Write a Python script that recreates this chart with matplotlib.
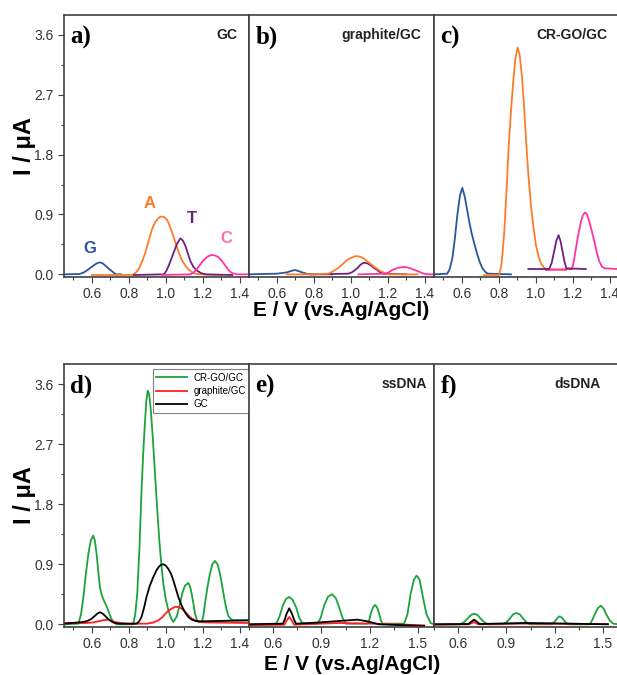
"""Square-wave voltammograms of G, A, T, C on GC, graphite/GC and CR-GO/GC electrodes."""

import matplotlib

matplotlib.use("Agg")
import matplotlib.pyplot as plt
from matplotlib.ticker import MultipleLocator

plt.rcParams["font.family"] = ["Liberation Sans", "DejaVu Sans"]

# ---- panel a: bare GC (E in V, I in uA) ----
a_g_e = [0.45, 0.535, 0.558, 0.58, 0.598, 0.616, 0.63, 0.643, 0.656, 0.67, 0.688, 0.706, 0.72, 0.733, 0.76]
a_g_i = [0.0, 0.005, 0.03, 0.07, 0.11, 0.145, 0.17, 0.18, 0.17, 0.14, 0.095, 0.055, 0.02, 0.0, 0.0]
a_a_e = [0.60, 0.818, 0.836, 0.854, 0.872, 0.89, 0.908, 0.926, 0.942, 0.958, 0.97, 0.98, 0.993,
         1.007, 1.02, 1.034, 1.052, 1.07, 1.088, 1.106, 1.124, 1.142, 1.16, 1.178, 1.30]
a_a_i = [-0.01, -0.01, 0.02, 0.08, 0.19, 0.33, 0.51, 0.68, 0.78, 0.84, 0.865, 0.87, 0.86,
         0.82, 0.74, 0.63, 0.48, 0.33, 0.21, 0.13, 0.07, 0.03, 0.01, 0.0, -0.01]
a_t_e = [0.827, 0.99, 1.003, 1.016, 1.03, 1.043, 1.061, 1.079, 1.092, 1.106, 1.12, 1.133, 1.15,
         1.169, 1.19, 1.214, 1.36]
a_t_i = [-0.01, 0.0, 0.05, 0.13, 0.23, 0.33, 0.46, 0.54, 0.51, 0.43, 0.31, 0.20, 0.11,
         0.055, 0.02, 0.0, -0.01]
a_c_e = [0.98, 1.133, 1.151, 1.169, 1.187, 1.205, 1.225, 1.245, 1.266, 1.286, 1.304, 1.322, 1.34,
         1.358, 1.385, 1.45]
a_c_i = [-0.01, 0.0, 0.03, 0.08, 0.15, 0.215, 0.265, 0.29, 0.285, 0.255, 0.2, 0.13, 0.06,
         0.02, 0.0, 0.0]

# ---- panel b: graphite/GC ----
b_g_e = [0.45, 0.60, 0.63, 0.655, 0.677, 0.697, 0.717, 0.737, 0.76, 0.783, 0.90]
b_g_i = [0.0, 0.01, 0.02, 0.03, 0.05, 0.065, 0.05, 0.03, 0.01, 0.0, 0.0]
b_a_e = [0.653, 0.78, 0.879, 0.9, 0.924, 0.947, 0.97, 0.988, 1.006, 1.02, 1.033, 1.05, 1.07,
         1.092, 1.115, 1.138, 1.16, 1.182, 1.205, 1.36]
b_a_i = [0.0, 0.0, 0.01, 0.04, 0.08, 0.13, 0.19, 0.23, 0.25, 0.27, 0.275, 0.265, 0.24,
         0.19, 0.14, 0.09, 0.05, 0.02, 0.0, 0.0]
b_t_e = [0.78, 0.988, 1.006, 1.024, 1.038, 1.051, 1.063, 1.075, 1.09, 1.106, 1.124, 1.142, 1.16,
         1.178, 1.30]
b_t_i = [0.0, 0.01, 0.03, 0.065, 0.1, 0.14, 0.165, 0.175, 0.165, 0.14, 0.1, 0.065, 0.03,
         0.01, 0.0]
b_c_e = [1.042, 1.187, 1.205, 1.224, 1.242, 1.26, 1.287, 1.305, 1.323, 1.345, 1.368, 1.39, 1.413, 1.45]
b_c_i = [0.0, 0.01, 0.03, 0.065, 0.085, 0.10, 0.11, 0.105, 0.09, 0.065, 0.04, 0.015, 0.0, 0.0]

# ---- panel c: CR-GO/GC ----
c_g_e = [0.45, 0.522, 0.535, 0.549, 0.562, 0.576, 0.59, 0.603, 0.617, 0.631, 0.642, 0.654, 0.67,
         0.685, 0.698, 0.712, 0.726, 0.74, 0.866]
c_g_i = [0.0, 0.01, 0.08, 0.24, 0.52, 0.89, 1.18, 1.30, 1.16, 0.94, 0.77, 0.61, 0.44,
         0.29, 0.18, 0.09, 0.04, 0.01, 0.0]
c_a_e = [0.721, 0.802, 0.815, 0.83, 0.842, 0.853, 0.866, 0.878, 0.89, 0.902, 0.913, 0.925, 0.936,
         0.947, 0.96, 0.974, 0.988, 1.001, 1.015, 1.028, 1.042, 1.055, 1.164]
c_a_i = [-0.01, -0.01, 0.15, 0.64, 1.25, 1.89, 2.45, 2.89, 3.25, 3.41, 3.30, 2.99, 2.55,
         2.04, 1.5, 1.04, 0.7, 0.44, 0.27, 0.165, 0.11, 0.08, 0.065]
c_t_e = [0.96, 1.072, 1.086, 1.099, 1.111, 1.123, 1.134, 1.145, 1.156, 1.166, 1.27]
c_t_i = [0.08, 0.08, 0.17, 0.34, 0.5, 0.59, 0.5, 0.34, 0.18, 0.09, 0.08]
c_c_e = [1.055, 1.196, 1.206, 1.217, 1.23, 1.244, 1.256, 1.268, 1.279, 1.29, 1.303, 1.317,
         1.33, 1.344, 1.357, 1.371, 1.45]
c_c_i = [0.065, 0.08, 0.2, 0.39, 0.6, 0.79, 0.9, 0.93, 0.89, 0.79, 0.65, 0.49, 0.33,
         0.19, 0.12, 0.09, 0.08]

# ---- panel d: mixture of bases on the three electrodes ----
d_crgo_e = [0.45, 0.528, 0.542, 0.555, 0.568, 0.582, 0.595, 0.608, 0.617, 0.626, 0.635, 0.644,
            0.653, 0.662, 0.675, 0.689, 0.702, 0.716, 0.734,
            0.824, 0.835, 0.846, 0.858, 0.869, 0.878, 0.887, 0.895, 0.902, 0.91, 0.918, 0.93,
            0.942, 0.954, 0.965, 0.976, 0.987, 1.0, 1.014, 1.028, 1.041,
            1.06, 1.077, 1.09, 1.104, 1.122, 1.132, 1.14, 1.15, 1.158, 1.168, 1.176, 1.194,
            1.203, 1.212, 1.225, 1.239, 1.252, 1.266, 1.28, 1.293, 1.305, 1.315, 1.327, 1.338,
            1.352, 1.365, 1.45]
d_crgo_i = [0.0, 0.01, 0.15, 0.41, 0.75, 1.06, 1.26, 1.33, 1.25, 1.06, 0.8, 0.56,
            0.45, 0.38, 0.3, 0.21, 0.11, 0.035, 0.0,
            0.0, 0.15, 0.46, 1.15, 2.0, 2.55, 3.0, 3.35, 3.5, 3.45, 3.25, 2.8,
            2.25, 1.72, 1.26, 0.9, 0.61, 0.38, 0.21, 0.1, 0.035,
            0.12, 0.31, 0.47, 0.58, 0.62, 0.56, 0.46, 0.3, 0.16, 0.07, 0.035, 0.035,
            0.12, 0.31, 0.55, 0.76, 0.9, 0.95, 0.9, 0.76, 0.58, 0.41, 0.24, 0.13,
            0.08, 0.06, 0.06]
d_graph_e = [0.45, 0.573, 0.61, 0.644, 0.668, 0.689, 0.707, 0.725, 0.755, 0.788, 0.896, 0.93,
             0.96, 0.983, 1.005, 1.028, 1.05, 1.068, 1.086, 1.104, 1.122, 1.14, 1.158, 1.18,
             1.203, 1.45]
d_graph_i = [0.02, 0.02, 0.03, 0.05, 0.065, 0.07, 0.055, 0.035, 0.02, 0.01, 0.01, 0.025,
             0.06, 0.11, 0.18, 0.23, 0.26, 0.26, 0.235, 0.19, 0.135, 0.09, 0.06, 0.04,
             0.03, 0.02]
d_gc_e = [0.45, 0.555, 0.58, 0.60, 0.614, 0.626, 0.635, 0.644, 0.657, 0.671, 0.685, 0.698,
          0.712, 0.725, 0.752, 0.842, 0.855, 0.869, 0.882, 0.896, 0.914, 0.933, 0.95, 0.965,
          0.977, 0.987, 1.0, 1.014, 1.028, 1.041, 1.055, 1.068, 1.086, 1.104, 1.122, 1.14,
          1.162, 1.185, 1.45]
d_gc_i = [0.01, 0.035, 0.055, 0.085, 0.12, 0.15, 0.17, 0.18, 0.165, 0.13, 0.09, 0.06,
          0.035, 0.02, 0.01, 0.01, 0.04, 0.11, 0.24, 0.41, 0.58, 0.71, 0.81, 0.87,
          0.895, 0.90, 0.88, 0.83, 0.76, 0.66, 0.53, 0.41, 0.28, 0.18, 0.11, 0.07,
          0.05, 0.045, 0.06]

# ---- panel e: ssDNA ----
e_crgo_e = [0.45, 0.62, 0.64, 0.66, 0.68, 0.70, 0.72, 0.742, 0.762, 0.783,
            0.876, 0.896, 0.917, 0.94, 0.965, 0.988, 1.01, 1.031, 1.052,
            1.186, 1.197, 1.207, 1.22, 1.234, 1.247, 1.259, 1.27, 1.28,
            1.414, 1.435, 1.455, 1.475, 1.492, 1.51, 1.527, 1.553, 1.579, 1.60]
e_crgo_i = [0.0, 0.01, 0.12, 0.28, 0.38, 0.41, 0.37, 0.26, 0.1, 0.01,
            0.01, 0.1, 0.28, 0.41, 0.45, 0.4, 0.26, 0.1, 0.01,
            0.01, 0.06, 0.16, 0.25, 0.29, 0.25, 0.16, 0.06, 0.01,
            0.01, 0.15, 0.46, 0.67, 0.73, 0.67, 0.46, 0.15, 0.02, 0.0]
e_graph_e = [0.45, 0.67, 0.685, 0.70, 0.715, 0.73, 1.01, 1.217, 1.424, 1.538]
e_graph_i = [-0.015, -0.005, 0.06, 0.11, 0.06, -0.005, 0.02, 0.01, -0.005, -0.015]
e_gc_e = [0.45, 0.66, 0.672, 0.684, 0.70, 0.717, 0.73, 0.742, 0.866, 1.01, 1.124, 1.186,
          1.259, 1.424, 1.538]
e_gc_i = [0.0, 0.01, 0.07, 0.16, 0.24, 0.16, 0.07, 0.01, 0.025, 0.05, 0.07, 0.045,
          0.0, -0.015, -0.025]

# ---- panel f: dsDNA ----
f_crgo_e = [0.45, 0.61, 0.635, 0.658, 0.68, 0.699, 0.72, 0.74, 0.763, 0.786,
            0.879, 0.9, 0.921, 0.942, 0.962, 0.983, 1.004, 1.025, 1.045,
            1.18, 1.194, 1.207, 1.219, 1.231, 1.245, 1.258, 1.27, 1.283,
            1.418, 1.433, 1.449, 1.468, 1.486, 1.503, 1.521, 1.542, 1.563, 1.60]
f_crgo_i = [0.0, 0.0, 0.03, 0.085, 0.14, 0.16, 0.14, 0.085, 0.03, 0.0,
            0.0, 0.03, 0.085, 0.15, 0.17, 0.15, 0.085, 0.03, 0.0,
            0.0, 0.025, 0.06, 0.1, 0.12, 0.1, 0.06, 0.025, 0.0,
            0.0, 0.06, 0.15, 0.24, 0.28, 0.24, 0.15, 0.06, 0.01, 0.0]
f_graph_e = [0.45, 0.668, 0.699, 0.724, 1.01, 1.531]
f_graph_i = [-0.005, 0.0, 0.035, 0.0, 0.01, 0.005]
f_gc_e = [0.45, 0.664, 0.685, 0.699, 0.713, 0.734, 1.01, 1.18, 1.531]
f_gc_i = [0.0, 0.005, 0.045, 0.07, 0.045, 0.005, 0.02, 0.015, 0.0]

BASE_COLORS = {"G": "#2b559d", "A": "#ff7b2c", "T": "#6c2380", "C": "#ff34a3"}
LABEL_COLORS = {"G": "#2b559d", "A": "#ff7b2c", "T": "#6c2380", "C": "#ff6fb0"}
ELECTRODE_COLORS = {"CR-GO/GC": "#1aa33b", "graphite/GC": "#ff1f1f", "GC": "#000000"}

fig = plt.figure(figsize=(6.17, 6.75), dpi=100)

col_left = [64 / 617, 249 / 617, 434 / 617]
col_width = 185 / 617
top_row = (1 - 277 / 675, 262 / 675)
bottom_row = (1 - 627 / 675, 263 / 675)


def make_axes(col, row, xlim, major, minor, show_y):
    bottom, height = row
    ax = fig.add_axes([col_left[col], bottom, col_width, height])
    ax.set_xlim(*xlim)
    ax.set_ylim(-0.04, 3.9)
    ax.xaxis.set_major_locator(MultipleLocator(major))
    ax.xaxis.set_minor_locator(MultipleLocator(minor))
    ax.yaxis.set_major_locator(MultipleLocator(0.9))
    ax.yaxis.set_minor_locator(MultipleLocator(0.45))
    ax.tick_params(which="both", direction="out", width=0.8, colors="#404040",
                   labelsize=10, labelcolor="#333333", top=False, right=False)
    ax.tick_params(which="major", length=4)
    ax.tick_params(which="minor", length=2.5)
    if not show_y:
        ax.tick_params(axis="y", which="both", left=False, labelleft=False)
    for spine in ax.spines.values():
        spine.set_color("#404040")
        spine.set_linewidth(1.2)
    return ax


def panel_text(ax, letter, name, name_x):
    ax.text(0.035, 0.96, letter, transform=ax.transAxes, ha="left", va="top",
            fontsize=18, fontweight="bold", family="Liberation Serif")
    if name:
        ax.text(name_x, 0.925, name, transform=ax.transAxes, ha="right", va="center",
                fontsize=10, fontweight="bold", color="#222222")


xlim_top = (0.45, 1.45)
xlim_dna = (0.45, 1.60)

ax_a = make_axes(0, top_row, xlim_top, 0.2, 0.1, True)
ax_b = make_axes(1, top_row, xlim_top, 0.2, 0.1, False)
ax_c = make_axes(2, top_row, xlim_top, 0.2, 0.1, False)
ax_d = make_axes(0, bottom_row, xlim_top, 0.2, 0.1, True)
ax_e = make_axes(1, bottom_row, xlim_dna, 0.3, 0.15, False)
ax_f = make_axes(2, bottom_row, xlim_dna, 0.3, 0.15, False)

lw = 1.3
for ax, curves in (
    (ax_a, [("G", a_g_e, a_g_i), ("A", a_a_e, a_a_i), ("T", a_t_e, a_t_i), ("C", a_c_e, a_c_i)]),
    (ax_b, [("G", b_g_e, b_g_i), ("T", b_t_e, b_t_i), ("A", b_a_e, b_a_i), ("C", b_c_e, b_c_i)]),
    (ax_c, [("G", c_g_e, c_g_i), ("A", c_a_e, c_a_i), ("C", c_c_e, c_c_i), ("T", c_t_e, c_t_i)]),
):
    for base, e, i in curves:
        ax.plot(e, i, color=BASE_COLORS[base], linewidth=lw)

for ax, curves in (
    (ax_d, [("CR-GO/GC", d_crgo_e, d_crgo_i), ("graphite/GC", d_graph_e, d_graph_i), ("GC", d_gc_e, d_gc_i)]),
    (ax_e, [("CR-GO/GC", e_crgo_e, e_crgo_i), ("graphite/GC", e_graph_e, e_graph_i), ("GC", e_gc_e, e_gc_i)]),
    (ax_f, [("CR-GO/GC", f_crgo_e, f_crgo_i), ("graphite/GC", f_graph_e, f_graph_i), ("GC", f_gc_e, f_gc_i)]),
):
    for name, e, i in curves:
        ax.plot(e, i, color=ELECTRODE_COLORS[name], linewidth=lw, label=name)

# base labels in panel a
base_labels = [("G", 0.59, 0.39), ("A", 0.915, 1.07), ("T", 1.14, 0.84), ("C", 1.33, 0.54)]
for base, x, y in base_labels:
    ax_a.text(x, y, base, color=LABEL_COLORS[base], fontsize=12, fontweight="bold",
              ha="center", va="center")

panel_text(ax_a, "a)", "GC", 0.935)
panel_text(ax_b, "b)", "graphite/GC", 0.93)
panel_text(ax_c, "c)", "CR-GO/GC", 0.935)
panel_text(ax_d, "d)", "", 0.93)
panel_text(ax_e, "e)", "ssDNA", 0.96)
panel_text(ax_f, "f)", "dsDNA", 0.90)

leg = ax_d.legend(loc="upper right", bbox_to_anchor=(1.0, 0.98), borderaxespad=0,
                  fontsize=7, frameon=True, fancybox=False, handlelength=3.2,
                  labelspacing=0.35, borderpad=0.35, handletextpad=0.6)
leg.get_frame().set_edgecolor("#606060")
leg.get_frame().set_linewidth(0.8)

for ax in (ax_a, ax_d):
    ax.set_ylabel("I / μA", fontsize=17, fontweight="bold")
    ax.yaxis.set_label_coords(-0.15, 0.5)

fig.text(341 / 617, 1 - 310 / 675, "E / V (vs.Ag/AgCl)", ha="center", va="center",
         fontsize=15, fontweight="bold")
fig.text(352 / 617, 1 - 664 / 675, "E / V (vs.Ag/AgCl)", ha="center", va="center",
         fontsize=15, fontweight="bold")

fig.savefig("out.png", dpi=100)
